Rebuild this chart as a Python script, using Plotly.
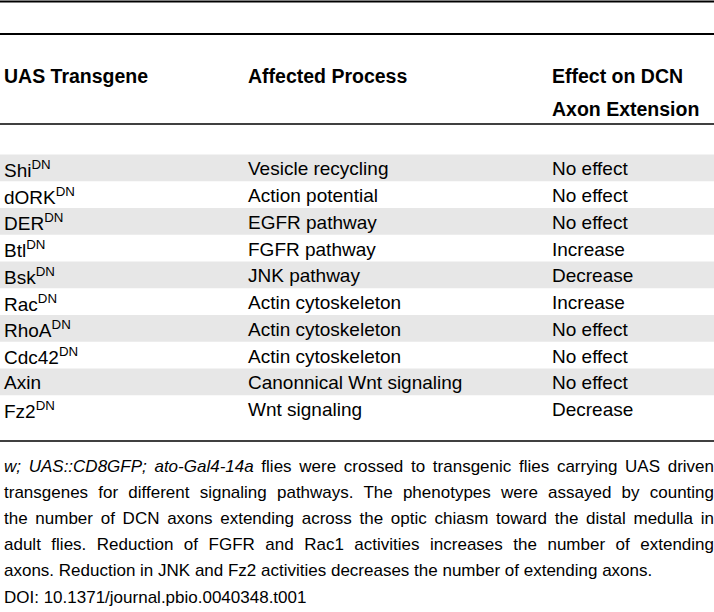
import json
import plotly.graph_objects as go

# ---- table content ----
transgenes = ["Shi<sup>DN</sup>", "dORK<sup>DN</sup>", "DER<sup>DN</sup>", "Btl<sup>DN</sup>",
              "Bsk<sup>DN</sup>", "Rac<sup>DN</sup>", "RhoA<sup>DN</sup>", "Cdc42<sup>DN</sup>",
              "Axin", "Fz2<sup>DN</sup>"]
processes = ["Vesicle recycling", "Action potential", "EGFR pathway", "FGFR pathway",
             "JNK pathway", "Actin cytoskeleton", "Actin cytoskeleton", "Actin cytoskeleton",
             "Canonnical Wnt signaling", "Wnt signaling"]
effects = ["No effect", "No effect", "No effect", "Increase", "Decrease", "Increase",
           "No effect", "No effect", "No effect", "Decrease"]
headers = [["UAS Transgene"], ["Affected Process"], ["Effect on DCN", "Axon Extension"]]
caption_lines = [
    "<i>w; UAS::CD8GFP; ato-Gal4-14a</i> flies were crossed to transgenic flies carrying UAS driven",
    "transgenes for different signaling pathways. The phenotypes were assayed by counting",
    "the number of DCN axons extending across the optic chiasm toward the distal medulla in",
    "adult flies. Reduction of FGFR and Rac1 activities increases the number of extending",
    "axons. Reduction in JNK and Fz2 activities decreases the number of extending axons.",
    "DOI: 10.1371/journal.pbio.0040348.t001",
]
n_justified = 4

W, H = 714, 612
FONT = "Liberation Sans"
col_x = [2, 246, 550]
row_top0, row_h = 154.5, 26.75
shade = "#e7e7e7"

fig = go.Figure()
shapes = []
annotations = []

# horizontal rules
for y, w in [(1.5, 2), (34, 2.2), (124, 1.3), (441, 1.6)]:
    shapes.append(dict(type="line", xref="x", yref="y", x0=0, x1=W, y0=y, y1=y,
                       line=dict(color="black", width=w)))

# shaded rows
for i in range(len(transgenes)):
    top = row_top0 + i * row_h
    if i % 2 == 0:
        shapes.append(dict(type="rect", xref="x", yref="y", x0=0, x1=W, y0=top, y1=top + row_h,
                           fillcolor=shade, line=dict(width=0), layer="below"))

# header
for j, lines in enumerate(headers):
    for k, h in enumerate(lines):
        annotations.append(dict(x=col_x[j], y=76 + 32.5 * k, xref="x", yref="y",
                                text="<b>" + h + "</b>",
                                showarrow=False, xanchor="left", yanchor="middle", align="left",
                                font=dict(family=FONT, size=19.5, color="black")))

# body rows
for i in range(len(transgenes)):
    cy = row_top0 + i * row_h + row_h / 2
    for j, txt in enumerate([transgenes[i], processes[i], effects[i]]):
        annotations.append(dict(x=col_x[j], y=cy + 1, xref="x", yref="y", text=txt,
                                showarrow=False, xanchor="left", yanchor="middle", align="left",
                                font=dict(family=FONT, size=19, color="black")))

# caption
cap_start = len(annotations)
for k, line in enumerate(caption_lines):
    annotations.append(dict(x=2, y=466 + 26.2 * k, xref="x", yref="y", text=line,
                            showarrow=False, xanchor="left", yanchor="middle", align="left",
                            font=dict(family=FONT, size=17, color="black")))
justify_idx = list(range(cap_start, cap_start + n_justified))

fig.update_layout(
    width=W, height=H, margin=dict(l=0, r=0, t=0, b=0),
    paper_bgcolor="white", plot_bgcolor="white",
    xaxis=dict(range=[0, W], visible=False, fixedrange=True),
    yaxis=dict(range=[H, 0], visible=False, fixedrange=True),
    shapes=shapes, annotations=annotations, showlegend=False,
)

post = """
document.body.style.margin = '0';
document.body.style.overflow = 'hidden';
var idx = %s;
var target = %d;
idx.forEach(function(i){
  var g = document.querySelector('g.annotation[data-index="' + i + '"] text.annotation-text');
  if (!g) return;
  var len = g.getComputedTextLength();
  var spaces = (g.textContent.match(/ /g) || []).length;
  if (spaces > 0 && len < target) {
    g.style.wordSpacing = ((target - len) / spaces) + 'px';
  }
});
""" % (json.dumps(justify_idx), 710)

fig.write_html("out.html", post_script=post, config={"displayModeBar": False})
